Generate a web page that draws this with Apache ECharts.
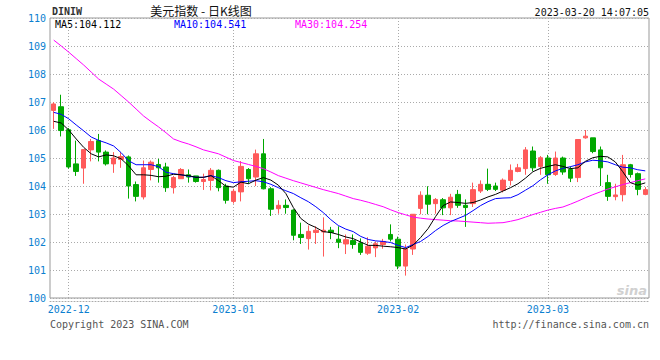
<!DOCTYPE html>
<html><head><meta charset="utf-8">
<script src="https://cdn.jsdelivr.net/npm/echarts@6/dist/echarts.min.js"></script>
<style>html,body{margin:0;padding:0;background:#fff}#c{width:660px;height:360px}</style>
</head><body><div id="c"></div>
<script>
const dates = [
 '2022-11-29','2022-11-30',
 '2022-12-01','2022-12-02','2022-12-05','2022-12-06','2022-12-07','2022-12-08','2022-12-09','2022-12-12','2022-12-13','2022-12-14','2022-12-15','2022-12-16','2022-12-19','2022-12-20','2022-12-21','2022-12-22','2022-12-23','2022-12-26','2022-12-27','2022-12-28','2022-12-29','2022-12-30',
 '2023-01-02','2023-01-03','2023-01-04','2023-01-05','2023-01-06','2023-01-09','2023-01-10','2023-01-11','2023-01-12','2023-01-13','2023-01-16','2023-01-17','2023-01-18','2023-01-19','2023-01-20','2023-01-23','2023-01-24','2023-01-25','2023-01-26','2023-01-27','2023-01-30','2023-01-31',
 '2023-02-01','2023-02-02','2023-02-03','2023-02-06','2023-02-07','2023-02-08','2023-02-09','2023-02-10','2023-02-13','2023-02-14','2023-02-15','2023-02-16','2023-02-17','2023-02-20','2023-02-21','2023-02-22','2023-02-23','2023-02-24','2023-02-27','2023-02-28',
 '2023-03-01','2023-03-02','2023-03-03','2023-03-06','2023-03-07','2023-03-08','2023-03-09','2023-03-10','2023-03-13','2023-03-14','2023-03-15','2023-03-16','2023-03-17','2023-03-20'
];
const opens = [106.70,106.83,106.01,104.79,104.64,105.29,105.62,105.21,104.79,104.95,105.04,104.05,103.61,104.59,104.77,104.68,103.94,104.26,104.40,104.36,
 104.16,104.20,104.56,104.00,103.45,103.79,104.59,104.32,105.15,103.90,103.19,103.31,103.14,102.27,102.12,102.34,102.36,102.42,102.10,101.93,
 102.05,101.96,101.60,101.79,101.91,102.27,102.10,101.14,101.75,103.20,103.67,103.37,103.51,103.22,103.70,103.31,103.37,103.82,104.06,104.00,
 103.85,104.20,104.52,104.62,105.25,104.70,105.00,104.41,105.00,104.59,104.30,105.72,105.72,105.29,104.12,103.62,103.69,104.76,104.44,103.70];
const closes = [106.93,105.98,104.68,104.52,105.30,105.59,105.21,104.79,105.00,105.05,104.00,103.63,104.65,104.85,104.65,103.94,104.30,104.59,104.32,104.16,
 104.23,104.56,103.94,103.49,103.81,104.70,104.26,105.15,103.90,103.17,103.31,103.23,102.24,102.16,102.38,102.42,102.42,102.34,101.99,102.08,
 101.91,101.63,101.85,101.94,102.02,102.10,101.14,101.75,102.99,103.67,103.35,103.52,103.22,103.60,103.31,103.23,103.87,104.06,103.88,103.88,
 104.21,104.56,104.65,105.29,104.65,105.01,104.40,105.00,104.50,104.28,105.66,105.78,105.23,104.65,103.63,103.68,104.76,104.41,103.88,103.87];
const lows = [106.04,105.77,104.62,104.36,104.08,104.88,104.88,104.73,104.47,104.65,103.55,103.45,103.52,104.20,104.12,103.79,103.73,104.26,104.12,104.12,
 103.86,103.84,103.81,103.37,103.37,103.45,104.08,104.00,103.88,102.93,103.01,103.01,102.06,101.93,101.73,101.93,101.48,102.10,101.78,101.57,
 101.76,101.54,101.54,101.46,101.76,102.02,101.03,100.80,101.54,102.99,102.99,103.01,102.96,102.96,103.22,102.54,103.25,103.75,103.82,103.82,
 103.77,104.02,104.49,104.40,104.53,104.40,104.08,104.36,104.40,104.14,104.14,105.69,105.17,104.00,103.47,103.49,103.45,104.30,103.67,103.67];
const highs = [106.99,107.26,106.07,105.62,105.32,105.68,105.86,105.27,105.21,105.21,105.09,104.16,104.91,104.91,104.97,104.83,104.36,104.64,104.59,104.36,
 104.44,104.64,104.59,104.08,103.90,104.89,104.64,105.30,105.68,103.96,103.49,103.52,103.17,102.69,102.59,102.56,102.88,102.54,102.56,102.27,
 102.27,102.13,102.17,102.02,102.11,102.63,102.19,101.91,103.00,103.81,103.99,103.57,103.57,103.72,103.86,103.52,104.12,104.20,104.62,104.12,
 104.27,104.77,104.79,105.39,105.41,105.07,105.11,105.23,105.05,104.70,105.66,106.00,105.72,105.41,104.40,104.08,105.11,104.79,104.48,103.96];
const ma5 = [106.31,106.25,106.00,105.68,105.38,105.15,105.04,105.11,105.08,104.97,104.72,104.40,104.40,104.38,104.33,104.35,104.42,104.40,104.37,104.31,
 104.31,104.37,104.19,103.99,103.96,104.14,104.08,104.21,104.30,104.21,104.03,103.73,103.23,102.84,102.64,102.52,102.37,102.34,102.27,102.18,
 102.12,102.00,101.88,101.88,101.85,101.83,101.80,101.75,101.89,102.16,102.48,102.91,103.30,103.43,103.41,103.38,103.41,103.50,103.61,103.70,
 103.82,103.94,104.08,104.28,104.51,104.63,104.70,104.76,104.70,104.62,104.65,104.88,105.01,105.06,105.04,104.86,104.51,104.12,104.03,104.112];
const ma10 = [106.63,106.56,106.40,106.18,105.97,105.75,105.63,105.54,105.43,105.19,104.90,104.76,104.76,104.76,104.69,104.49,104.44,104.40,104.35,104.31,
 104.31,104.37,104.30,104.19,104.12,104.15,104.17,104.19,104.15,104.06,103.94,103.83,103.73,103.58,103.44,103.26,103.05,102.80,102.59,102.46,
 102.37,102.20,102.09,102.04,102.02,101.98,101.88,101.80,101.91,102.02,102.20,102.41,102.59,102.73,102.84,102.95,103.12,103.30,103.44,103.55,
 103.57,103.58,103.69,103.85,104.01,104.22,104.40,104.54,104.63,104.69,104.76,104.86,104.92,104.90,104.86,104.76,104.67,104.65,104.58,104.541];
const ma30 = [109.21,109.00,108.78,108.55,108.32,108.07,107.82,107.64,107.46,107.23,107.00,106.75,106.50,106.30,106.11,105.90,105.68,105.58,105.50,105.40,
 105.29,105.22,105.15,105.03,104.91,104.84,104.77,104.70,104.62,104.50,104.37,104.28,104.19,104.11,104.03,103.95,103.87,103.80,103.73,103.64,
 103.55,103.49,103.42,103.34,103.26,103.15,103.05,102.97,102.89,102.85,102.82,102.80,102.78,102.76,102.75,102.73,102.71,102.69,102.67,102.68,
 102.69,102.74,102.80,102.89,102.98,103.06,103.14,103.20,103.25,103.35,103.46,103.58,103.69,103.79,103.89,103.97,104.05,104.12,104.19,104.254];
const yMin = 100, yMax = 110, yStep = 1;

const isMonthStart = (i) => i > 0 && dates[i].slice(0, 7) !== dates[i - 1].slice(0, 7);
const candles = dates.map((d, i) => [opens[i], closes[i], lows[i], highs[i]]);
const mono = '"DejaVu Sans Mono", "Liberation Mono", monospace';
const blue = '#0c7fd0';
const last = (a) => a[a.length - 1].toFixed(3);

const chart = echarts.init(document.getElementById('c'), null, { renderer: 'svg' });
chart.setOption({
  animation: false,
  backgroundColor: '#fff',
  grid: { left: 50, top: 18, right: 11, bottom: 62, show: true, borderColor: '#999', borderWidth: 1, backgroundColor: 'transparent' },
  xAxis: {
    type: 'category', data: dates, boundaryGap: true, offset: 3,
    axisLine: { show: true, lineStyle: { color: '#aaa', type: [1, 2], width: 1 } },
    axisTick: { show: false },
    axisLabel: { interval: (i) => isMonthStart(i), formatter: (v) => v.slice(0, 7), color: blue, fontFamily: mono, fontSize: 10, margin: 3 },
    splitLine: { show: true, interval: (i) => isMonthStart(i), alignWithLabel: true, lineStyle: { color: '#aaa', type: [1, 2], width: 1 } }
  },
  yAxis: {
    type: 'value', min: yMin, max: yMax, interval: yStep, scale: true,
    axisLine: { show: false }, axisTick: { show: false },
    axisLabel: { color: blue, fontFamily: mono, fontSize: 10, margin: 4 },
    splitLine: { show: true, lineStyle: { color: '#aaa', type: [1, 2], width: 1 } }
  },
  series: [
    { type: 'candlestick', data: candles, barWidth: 5,
      itemStyle: { color: '#ff5a5a', color0: '#00a800', borderColor: '#ff5a5a', borderColor0: '#00a800', borderWidth: 1 } },
    { type: 'line', data: ma30, showSymbol: false, symbol: 'none', lineStyle: { color: '#ff00ff', width: 1 }, z: 3 },
    { type: 'line', data: ma10, showSymbol: false, symbol: 'none', lineStyle: { color: '#0000ff', width: 1 }, z: 3 },
    { type: 'line', data: ma5, showSymbol: false, symbol: 'none', lineStyle: { color: '#000000', width: 1 }, z: 3 }
  ],
  graphic: [
    { type: 'text', left: 52, top: 6, style: { text: 'DINIW', font: 'bold 10px ' + mono, fill: '#333' } },
    { type: 'text', x: 201, y: 10, style: { text: '美元指数 - 日K线图', font: '12px "Noto Sans CJK SC"', fill: '#111', align: 'center', verticalAlign: 'middle', lineHeight: 13 } },
    { type: 'text', x: 649, y: 12, style: { text: '2023-03-20 14:07:05', font: '10px ' + mono, fill: '#111', align: 'right', verticalAlign: 'middle' } },
    { type: 'text', x: 55, y: 24.5, style: { text: 'MA5:' + last(ma5), font: '10px ' + mono, fill: '#000', verticalAlign: 'middle', lineHeight: 11 } },
    { type: 'text', x: 174, y: 24.5, style: { text: 'MA10:' + last(ma10), font: '10px ' + mono, fill: '#0000ff', verticalAlign: 'middle', lineHeight: 11 } },
    { type: 'text', x: 295, y: 24.5, style: { text: 'MA30:' + last(ma30), font: '10px ' + mono, fill: '#ff00ff', verticalAlign: 'middle', lineHeight: 11 } },
    { type: 'text', x: 50, y: 324, style: { text: 'Copyright 2023 SINA.COM', font: '10px ' + mono, fill: '#555', verticalAlign: 'middle' } },
    { type: 'text', x: 649, y: 324, style: { text: 'http://finance.sina.com.cn', font: '10px ' + mono, fill: '#555', align: 'right', verticalAlign: 'middle' } },
    { type: 'text', x: 647, y: 290, style: { text: 'sina', font: 'italic bold 13px "DejaVu Sans"', fill: '#d0d0d0', align: 'right', verticalAlign: 'middle' } }
  ]
});
</script></body></html>
